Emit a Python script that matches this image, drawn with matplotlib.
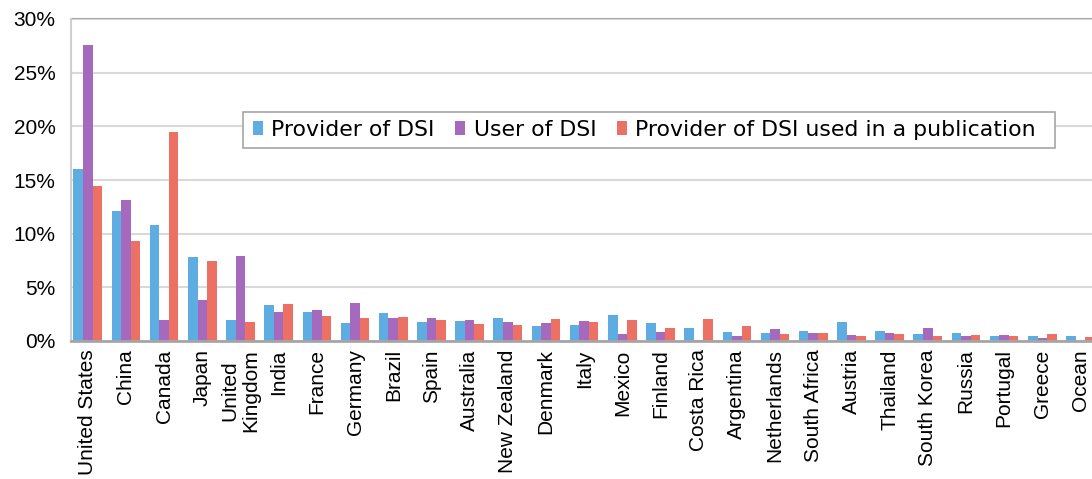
import matplotlib
matplotlib.use("Agg")
import matplotlib.pyplot as plt
from matplotlib.patches import Rectangle
import numpy as np

countries = ["United States", "China", "Canada", "Japan", "United\nKingdom", "India",
             "France", "Germany", "Brazil", "Spain", "Australia", "New Zealand",
             "Denmark", "Italy", "Mexico", "Finland", "Costa Rica", "Argentina",
             "Netherlands", "South Africa", "Austria", "Thailand", "South Korea",
             "Russia", "Portugal", "Greece", "Ocean"]

provider = [16.0, 12.1, 10.8, 7.8, 2.0, 3.33, 2.68, 1.65, 2.65, 1.8, 1.9, 2.18,
            1.43, 1.52, 2.46, 1.71, 1.21, 0.84, 0.75, 0.93, 1.8, 0.93, 0.65,
            0.75, 0.47, 0.47, 0.47]
user = [27.6, 13.1, 1.93, 3.8, 7.9, 2.68, 2.87, 3.5, 2.1, 2.1, 2.0, 1.8,
        1.71, 1.9, 0.68, 0.84, 0.1, 0.47, 1.12, 0.75, 0.56, 0.75, 1.21,
        0.47, 0.56, 0.28, 0.0]
publication = [14.4, 9.3, 19.5, 7.5, 1.75, 3.43, 2.31, 2.18, 2.27, 2.0, 1.62, 1.52,
               2.08, 1.8, 2.0, 1.21, 2.08, 1.4, 0.65, 0.75, 0.47, 0.65, 0.47,
               0.56, 0.47, 0.65, 0.37]

series_names = ["Provider of DSI", "User of DSI", "Provider of DSI used in a publication"]
colors = ["#5DADE2", "#A569BD", "#EC7063"]
yticks = [0, 5, 10, 15, 20, 25, 30]

W, H = 1092, 479
fig = plt.figure(figsize=(W / 100, H / 100), dpi=100)
ax_left, ax_right, ax_top, ax_bottom = 71, 1092, 19, 341
ax = fig.add_axes([ax_left / W, 1 - ax_bottom / H, (ax_right - ax_left) / W,
                   (ax_bottom - ax_top) / H])

x = np.arange(len(countries))
bw = 0.25
for i, (vals, name, c) in enumerate(zip([provider, user, publication], series_names, colors)):
    ax.bar(x + (i - 1) * bw, vals, width=bw, color=c, label=name, zorder=3)

ax.set_ylim(0, 30)
ax.set_xlim(-0.44, 26.3)
ax.set_yticks(yticks)
ax.set_yticklabels([f"{v}%" for v in yticks], fontsize=15, fontfamily="Liberation Sans")
ax.set_xticks(x)
ax.set_xticklabels(countries, rotation=90, fontsize=15, fontfamily="Liberation Sans",
                   ha="center", va="top", linespacing=1.15)
ax.tick_params(axis="both", length=0)
ax.tick_params(axis="y", pad=11)
ax.tick_params(axis="x", pad=6)

ax.grid(axis="y", color="#d9d9d9", linewidth=1.5, zorder=0)
for s in ["top", "right"]:
    ax.spines[s].set_visible(False)
ax.axhline(30, color="#a6a6a6", linewidth=1.5, zorder=1, clip_on=False)
ax.spines["left"].set_color("#d0d0d0")
ax.spines["left"].set_linewidth(1.5)
ax.spines["bottom"].set_color("#a6a6a6")
ax.spines["bottom"].set_linewidth(2.0)
ax.spines["bottom"].set_zorder(4)

# legend frame (Excel-style, wider on the right)
bx0, bx1, by0, by1 = 243, 1055, 112, 148
frame = Rectangle((bx0 / W, 1 - by1 / H), (bx1 - bx0) / W, (by1 - by0) / H,
                  transform=fig.transFigure, facecolor="white", edgecolor="#a6a6a6",
                  linewidth=1.2, zorder=5)
fig.patches.append(frame)

leg = fig.legend(*ax.get_legend_handles_labels(), ncol=3, loc="center left",
                 bbox_to_anchor=(253 / W, 1 - (by0 + by1) / 2 / H),
                 borderaxespad=0, frameon=False,
                 prop={"family": "DejaVu Sans", "size": 15.8},
                 handlelength=0.45, handleheight=0.58, handletextpad=0.38,
                 columnspacing=0.95, borderpad=0.0)
leg.set_zorder(6)

fig.savefig("out.png", dpi=100)
